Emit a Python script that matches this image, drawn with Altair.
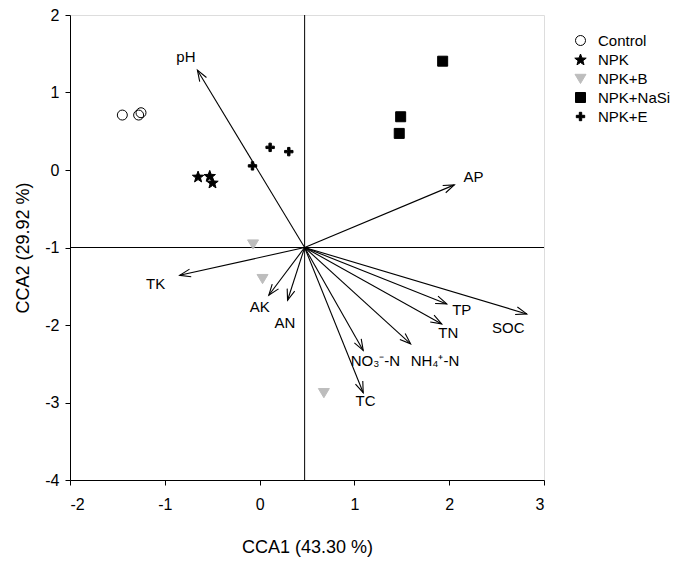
import altair as alt
import numpy as np
import pandas as pd

# ---------------- data ----------------
groups = ["Control", "NPK", "NPK+B", "NPK+NaSi", "NPK+E"]

site_group = ["Control"] * 3 + ["NPK"] * 3 + ["NPK+B"] * 3 + ["NPK+NaSi"] * 3 + ["NPK+E"] * 3
site_x = [-1.448, -1.276, -1.251,
          -0.649, -0.526, -0.497,
          -0.069, 0.031, 0.678,
          1.931, 1.488, 1.473,
          -0.075, 0.111, 0.308]
site_y = [0.709, 0.709, 0.739,
          -0.085, -0.076, -0.162,
          -0.956, -1.402, -2.874,
          1.404, 0.687, 0.472,
          0.053, 0.292, 0.237]

origin_x = 0.475
origin_y = -1.0

env_names = ["pH", "AP", "TK", "AK", "AN", "TP", "SOC", "TN", "NH₄⁺-N", "NO₃⁻-N", "TC"]
env_x = [-0.656, 2.054, -0.843, 0.097, 0.295, 1.974, 2.818, 1.921, 1.593, 1.093, 1.093]
env_y = [1.288, -0.192, -1.359, -1.616, -1.681, -1.728, -1.857, -1.986, -2.243, -2.328, -2.874]
label_x = [-0.777, 2.257, -1.096, 0.002, 0.266, 2.132, 2.624, 1.990, 1.850, 1.222, 1.118]
label_y = [1.459, -0.085, -1.471, -1.771, -1.973, -1.801, -2.037, -2.102, -2.466, -2.466, -2.981]

x_ticks = [-2, -1, 0, 1, 2, 3]
y_ticks = [-4, -3, -2, -1, 0, 1, 2]

# ---------------- layout ----------------
W, H = 474, 465
XD = [-2, 3]
YD = [-4, 2]
sx = W / (XD[1] - XD[0])
sy = H / (YD[1] - YD[0])
FONT = "Liberation Sans"
SYM = 400  # common symbol size: 1 path unit = 10 px

# symbol paths (unit = 10 px)
CIRCLE = "M -0.5 0 A 0.5 0.5 0 1 0 0.5 0 A 0.5 0.5 0 1 0 -0.5 0 Z"
ang = np.deg2rad(-90 + 36 * np.arange(10))
rad = np.where(np.arange(10) % 2 == 0, 0.6, 0.25)
STAR = "M" + " L".join(f"{r*np.cos(a):.3f},{r*np.sin(a) + 0.05:.3f}" for r, a in zip(rad, ang)) + " Z"
TRI = "M -0.55 -0.42 L 0.55 -0.42 L 0 0.5 Z"
SQUARE = "M -0.5 -0.5 L 0.5 -0.5 L 0.5 0.5 L -0.5 0.5 Z"
CROSS = ("M -0.12 -0.42 L 0.12 -0.42 L 0.12 -0.12 L 0.42 -0.12 L 0.42 0.12 L 0.12 0.12 "
         "L 0.12 0.42 L -0.12 0.42 L -0.12 0.12 L -0.42 0.12 L -0.42 -0.12 L -0.12 -0.12 Z")
ARROWHEAD = "M -0.36 1 L 0 0 L 0.36 1"

sites = pd.DataFrame({"group": site_group, "x": site_x, "y": site_y})

dx = np.array(env_x) - origin_x
dy = np.array(env_y) - origin_y
angles = np.mod(np.degrees(np.arctan2(dx * sx, dy * sy)), 360)
env = pd.DataFrame({
    "name": env_names, "x": env_x, "y": env_y,
    "x0": origin_x, "y0": origin_y,
    "lx": label_x, "ly": label_y, "angle": angles,
})

xs = alt.Scale(domain=XD, nice=False, zero=False)
ys = alt.Scale(domain=YD, nice=False, zero=False)

common = dict(grid=False, tickSize=5, labelFontSize=16, titleFontSize=18,
              domainColor="black", tickColor="black", labelColor="black",
              titleColor="black", titleFontWeight="normal", labelFont=FONT, titleFont=FONT,
              labelExpr="'' + datum.value")
xaxis = alt.Axis(values=x_ticks, title="CCA1 (43.30 %)", titlePadding=26, labelPadding=11, **common)
yaxis = alt.Axis(values=y_ticks, title="CCA2 (29.92 %)", titlePadding=12, labelPadding=6, **common)

base = alt.Chart(env)

vline = alt.Chart(pd.DataFrame({"x": [origin_x]})).mark_rule(color="black", strokeWidth=1).encode(
    x=alt.X("x:Q", scale=xs, axis=xaxis))
hline = alt.Chart(pd.DataFrame({"y": [origin_y]})).mark_rule(color="black", strokeWidth=1).encode(
    y=alt.Y("y:Q", scale=ys, axis=yaxis))

arrows = base.mark_rule(color="black", strokeWidth=1.1).encode(
    x=alt.X("x0:Q", scale=xs), y=alt.Y("y0:Q", scale=ys), x2="x:Q", y2="y:Q")
heads = base.mark_point(shape=ARROWHEAD, filled=False, color="black", strokeWidth=1.1,
                        size=480, opacity=1).encode(
    x=alt.X("x:Q", scale=xs), y=alt.Y("y:Q", scale=ys),
    angle=alt.Angle("angle:Q", scale=None))
labels = base.mark_text(font=FONT, fontSize=15, color="black").encode(
    x=alt.X("lx:Q", scale=xs), y=alt.Y("ly:Q", scale=ys), text="name:N")

leg = alt.Legend(title=None, orient="none", legendX=500, legendY=15, labelFontSize=15,
                 labelFont=FONT, labelColor="black", rowPadding=0, labelOffset=7,
                 padding=0, symbolSize=SYM, symbolStrokeWidth=1)
points = alt.Chart(sites).mark_point(opacity=1, strokeWidth=1, size=SYM).encode(
    x=alt.X("x:Q", scale=xs),
    y=alt.Y("y:Q", scale=ys),
    shape=alt.Shape("group:N", scale=alt.Scale(domain=groups,
                    range=[CIRCLE, STAR, TRI, SQUARE, CROSS]), legend=leg),
    fill=alt.Fill("group:N", scale=alt.Scale(domain=groups,
                  range=["transparent", "black", "#bdbdbd", "black", "black"]), legend=leg),
    stroke=alt.Stroke("group:N", scale=alt.Scale(domain=groups,
                      range=["black", "black", "#bdbdbd", "black", "black"]), legend=leg),
)

chart = alt.layer(vline, hline, arrows, heads, labels, points).properties(
    width=W, height=H,
    autosize=alt.AutoSizeParams(type="none"),
    padding={"left": 62, "top": 7, "right": 133, "bottom": 78},
).configure_view(stroke="black", strokeWidth=1.2).configure(background="white")

chart.save("out.html", embed_options={"renderer": "svg", "actions": False})
